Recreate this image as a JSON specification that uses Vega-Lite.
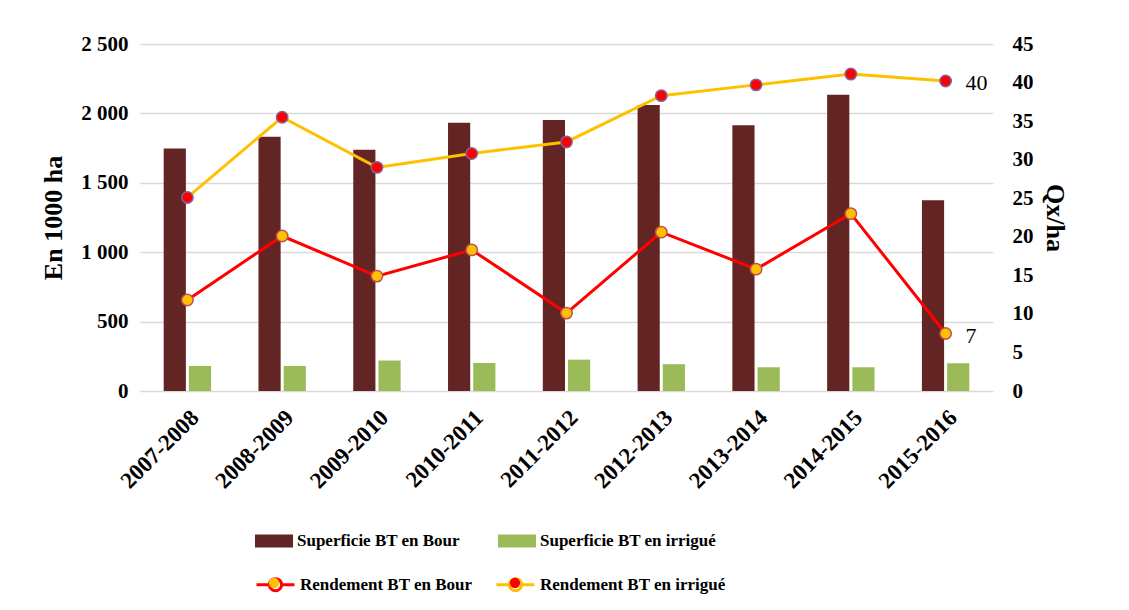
{
  "$schema": "https://vega.github.io/schema/vega-lite/v6.json",
  "width": 853,
  "height": 347,
  "autosize": {"type": "none"},
  "padding": {"left": 140, "top": 44, "right": 136, "bottom": 219},
  "background": "white",
  "config": {
    "view": {"stroke": null},
    "font": "Liberation Serif",
    "axis": {"labelFont": "Liberation Serif", "titleFont": "Liberation Serif", "labelColor": "#000000", "titleColor": "#000000", "labelFontWeight": "bold", "titleFontWeight": "bold"},
    "legend": {"labelFont": "Liberation Serif", "labelFontWeight": "bold", "labelFontSize": 17, "labelColor": "#000000", "labelLimit": 400, "title": null, "padding": 0}
  },
  "datasets": {
    "bars": [
      {"annee": "2007-2008", "serie": "Superficie BT en Bour", "valeur": 1748},
      {"annee": "2008-2009", "serie": "Superficie BT en Bour", "valeur": 1832},
      {"annee": "2009-2010", "serie": "Superficie BT en Bour", "valeur": 1738},
      {"annee": "2010-2011", "serie": "Superficie BT en Bour", "valeur": 1933},
      {"annee": "2011-2012", "serie": "Superficie BT en Bour", "valeur": 1952},
      {"annee": "2012-2013", "serie": "Superficie BT en Bour", "valeur": 2060},
      {"annee": "2013-2014", "serie": "Superficie BT en Bour", "valeur": 1914},
      {"annee": "2014-2015", "serie": "Superficie BT en Bour", "valeur": 2135},
      {"annee": "2015-2016", "serie": "Superficie BT en Bour", "valeur": 1375},
      {"annee": "2007-2008", "serie": "Superficie BT en irrigué", "valeur": 180},
      {"annee": "2008-2009", "serie": "Superficie BT en irrigué", "valeur": 180},
      {"annee": "2009-2010", "serie": "Superficie BT en irrigué", "valeur": 219},
      {"annee": "2010-2011", "serie": "Superficie BT en irrigué", "valeur": 202},
      {"annee": "2011-2012", "serie": "Superficie BT en irrigué", "valeur": 226},
      {"annee": "2012-2013", "serie": "Superficie BT en irrigué", "valeur": 193},
      {"annee": "2013-2014", "serie": "Superficie BT en irrigué", "valeur": 171},
      {"annee": "2014-2015", "serie": "Superficie BT en irrigué", "valeur": 171},
      {"annee": "2015-2016", "serie": "Superficie BT en irrigué", "valeur": 200}
    ],
    "rendements": [
      {"annee": "2007-2008", "serie": "Rendement BT en Bour", "valeur": 11.8},
      {"annee": "2008-2009", "serie": "Rendement BT en Bour", "valeur": 20.1},
      {"annee": "2009-2010", "serie": "Rendement BT en Bour", "valeur": 14.9},
      {"annee": "2010-2011", "serie": "Rendement BT en Bour", "valeur": 18.3},
      {"annee": "2011-2012", "serie": "Rendement BT en Bour", "valeur": 10.1},
      {"annee": "2012-2013", "serie": "Rendement BT en Bour", "valeur": 20.6},
      {"annee": "2013-2014", "serie": "Rendement BT en Bour", "valeur": 15.8},
      {"annee": "2014-2015", "serie": "Rendement BT en Bour", "valeur": 23.0},
      {"annee": "2015-2016", "serie": "Rendement BT en Bour", "valeur": 7.45},
      {"annee": "2007-2008", "serie": "Rendement BT en irrigué", "valeur": 25.1},
      {"annee": "2008-2009", "serie": "Rendement BT en irrigué", "valeur": 35.5},
      {"annee": "2009-2010", "serie": "Rendement BT en irrigué", "valeur": 29.0},
      {"annee": "2010-2011", "serie": "Rendement BT en irrigué", "valeur": 30.8},
      {"annee": "2011-2012", "serie": "Rendement BT en irrigué", "valeur": 32.3},
      {"annee": "2012-2013", "serie": "Rendement BT en irrigué", "valeur": 38.3},
      {"annee": "2013-2014", "serie": "Rendement BT en irrigué", "valeur": 39.7},
      {"annee": "2014-2015", "serie": "Rendement BT en irrigué", "valeur": 41.1},
      {"annee": "2015-2016", "serie": "Rendement BT en irrigué", "valeur": 40.2}
    ]
  },
  "layer": [
    {
      "data": {"name": "bars"},
      "mark": {"type": "bar"},
      "encoding": {
        "x": {
          "field": "annee", "type": "nominal", "sort": null,
          "scale": {"paddingInner": 0.5, "paddingOuter": 0.25},
          "axis": {"title": null, "labelAngle": -45, "labelFontSize": 23, "labelPadding": 15, "ticks": false, "domain": false, "grid": false}
        },
        "xOffset": {"field": "serie", "type": "nominal", "scale": {"paddingInner": 0.12}},
        "y": {
          "field": "valeur", "type": "quantitative",
          "scale": {"domain": [0, 2500]},
          "axis": {
            "title": "En 1000 ha", "titleFontSize": 26, "titlePadding": 14,
            "values": [0, 500, 1000, 1500, 2000, 2500],
            "labelExpr": "replace(format(datum.value, ','), ',', ' ')",
            "labelFontSize": 21, "labelPadding": 12,
            "ticks": false, "domain": false,
            "grid": true, "gridColor": "#D9D9D9", "gridWidth": 1.5
          }
        },
        "fill": {
          "field": "serie", "type": "nominal",
          "scale": {
            "domain": ["Superficie BT en Bour", "Superficie BT en irrigué"],
            "range": ["#632523", "#9BBB59"]
          },
          "legend": {
            "orient": "none", "legendX": 115, "legendY": 478,
            "direction": "horizontal", "columns": 2, "columnPadding": 38,
            "symbolSize": 1444, "labelOffset": 4,
            "symbolType": "M-1,-0.34H1V0.34H-1Z", "symbolStrokeWidth": 0
          }
        }
      }
    },
    {
      "data": {"name": "rendements"},
      "encoding": {
        "x": {"field": "annee", "type": "nominal", "sort": null},
        "y": {
          "field": "valeur", "type": "quantitative",
          "scale": {"domain": [0, 45]},
          "axis": {
            "title": "Qx/ha", "titleFontSize": 26, "titlePadding": 8, "orient": "right",
            "values": [0, 5, 10, 15, 20, 25, 30, 35, 40, 45],
            "labelFontSize": 21, "labelPadding": 19,
            "ticks": false, "domain": false, "grid": false
          }
        }
      },
      "layer": [
        {
          "mark": {"type": "line", "strokeWidth": 3},
          "encoding": {
            "stroke": {
              "field": "serie", "type": "nominal",
              "scale": {"domain": ["Rendement BT en Bour", "Rendement BT en irrigué"], "range": ["#FF0000", "#FFC000"]},
              "legend": {
                "orient": "none", "legendX": 115, "legendY": 520,
                "direction": "horizontal", "columns": 2, "columnPadding": 17,
                "symbolSize": 1444, "labelOffset": 4,
                "symbolType": "M-1,0H-0.32M0.32,0H1M-0.32,0A0.32,0.32 0 1,1 0.32,0A0.32,0.32 0 1,1 -0.32,0Z",
                "symbolStrokeWidth": 3, "symbolFillColor": "transparent"
              }
            }
          }
        },
        {
          "transform": [{"filter": "datum.serie === 'Rendement BT en Bour'"}],
          "mark": {"type": "point", "filled": true, "size": 130, "stroke": "#C0504D", "strokeWidth": 1.5, "opacity": 1},
          "encoding": {
            "fill": {
              "field": "serie", "type": "nominal",
              "scale": {"domain": ["Rendement BT en Bour", "Rendement BT en irrigué"], "range": ["#FFC000", "#FF0000"]},
              "legend": {
                "orient": "none", "legendX": 115, "legendY": 520,
                "direction": "horizontal", "columns": 2, "columnPadding": 26,
                "symbolSize": 1444, "labelOffset": 4,
                "symbolType": "M-0.27,0A0.27,0.27 0 1,1 0.27,0A0.27,0.27 0 1,1 -0.27,0Z",
                "symbolStrokeWidth": 0, "labelOpacity": 0
              }
            }
          }
        },
        {
          "transform": [{"filter": "datum.serie === 'Rendement BT en irrigué'"}],
          "mark": {"type": "point", "filled": true, "size": 130, "stroke": "#8064A2", "strokeWidth": 1.5, "opacity": 1},
          "encoding": {
            "fill": {
              "field": "serie", "type": "nominal",
              "scale": {"domain": ["Rendement BT en Bour", "Rendement BT en irrigué"], "range": ["#FFC000", "#FF0000"]},
              "legend": {
                "orient": "none", "legendX": 115, "legendY": 520,
                "direction": "horizontal", "columns": 2, "columnPadding": 26,
                "symbolSize": 1444, "labelOffset": 4,
                "symbolType": "M-0.27,0A0.27,0.27 0 1,1 0.27,0A0.27,0.27 0 1,1 -0.27,0Z",
                "symbolStrokeWidth": 0, "labelOpacity": 0
              }
            }
          }
        },
        {
          "transform": [{"filter": "datum.annee === '2015-2016'"}],
          "mark": {"type": "text", "align": "left", "baseline": "middle", "dx": 20, "dy": 2, "font": "Liberation Serif", "fontSize": 22, "color": "#000000"},
          "encoding": {"text": {"field": "valeur", "type": "quantitative", "format": ".0f"}}
        }
      ]
    }
  ],
  "resolve": {"scale": {"y": "independent", "fill": "independent"}}
}
